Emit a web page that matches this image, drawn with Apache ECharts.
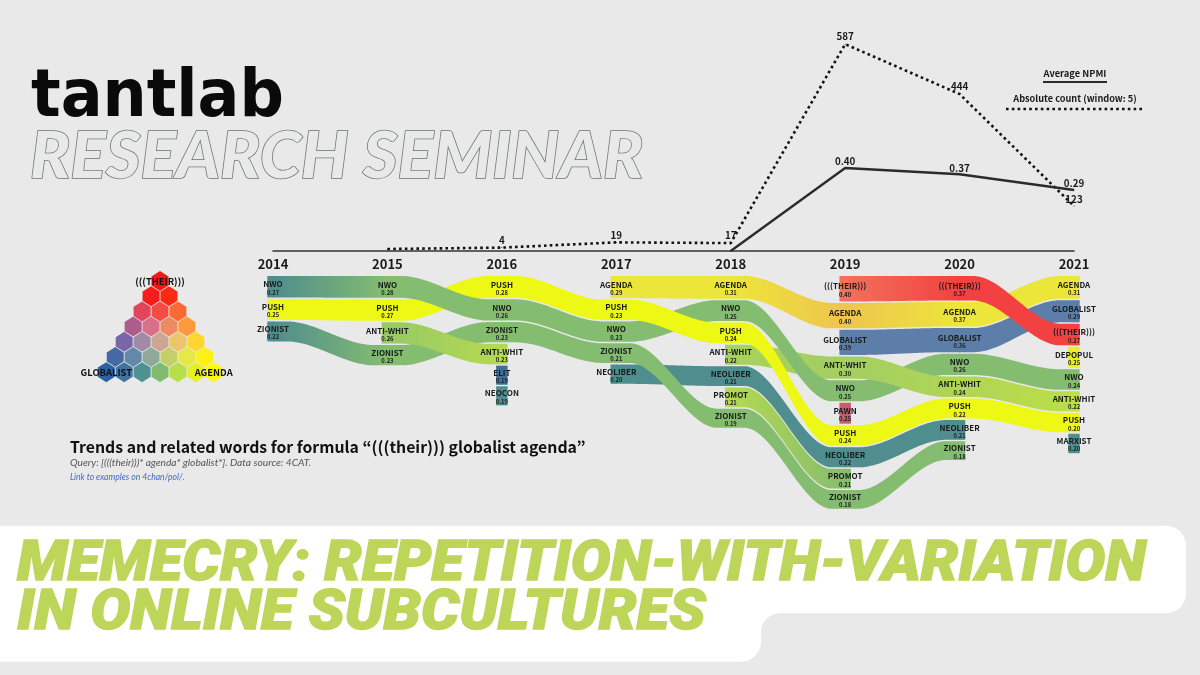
<!DOCTYPE html>
<html><head><meta charset="utf-8">
<style>html,body{margin:0;padding:0;background:#e9e9e9}#c{width:1200px;height:675px}</style>
<script src="https://cdn.jsdelivr.net/npm/echarts@6/dist/echarts.min.js"></script>
</head><body><div id="c"></div>
<script>
// ---------- data ----------
const years = [2014, 2015, 2016, 2017, 2018, 2019, 2020, 2021];
const npmiYears = [2018, 2019, 2020, 2021];
const npmiValues = [0, 0.40, 0.37, 0.294];
const countYears = [2015, 2016, 2017, 2018, 2019, 2020, 2021];
const countValues = [0, 4, 19, 17, 587, 444, 123];

const terms2014 = ['NWO', 'PUSH', 'ZIONIST'];
const npmi2014 = [0.27, 0.25, 0.22];
const terms2015 = ['NWO', 'PUSH', 'ANTI-WHIT', 'ZIONIST'];
const npmi2015 = [0.28, 0.27, 0.26, 0.23];
const terms2016 = ['PUSH', 'NWO', 'ZIONIST', 'ANTI-WHIT', 'ELIT', 'NEOCON'];
const npmi2016 = [0.28, 0.26, 0.23, 0.23, 0.19, 0.19];
const terms2017 = ['AGENDA', 'PUSH', 'NWO', 'ZIONIST', 'NEOLIBER'];
const npmi2017 = [0.29, 0.23, 0.23, 0.21, 0.20];
const terms2018 = ['AGENDA', 'NWO', 'PUSH', 'ANTI-WHIT', 'NEOLIBER', 'PROMOT', 'ZIONIST'];
const npmi2018 = [0.31, 0.25, 0.24, 0.22, 0.21, 0.21, 0.19];
const terms2019 = ['(((THEIR)))', 'AGENDA', 'GLOBALIST', 'ANTI-WHIT', 'NWO', 'PAWN', 'PUSH', 'NEOLIBER', 'PROMOT', 'ZIONIST'];
const npmi2019 = [0.40, 0.40, 0.39, 0.30, 0.25, 0.25, 0.24, 0.22, 0.21, 0.18];
const terms2020 = ['(((THEIR)))', 'AGENDA', 'GLOBALIST', 'NWO', 'ANTI-WHIT', 'PUSH', 'NEOLIBER', 'ZIONIST'];
const npmi2020 = [0.37, 0.37, 0.36, 0.26, 0.24, 0.22, 0.21, 0.18];
const terms2021 = ['AGENDA', 'GLOBALIST', '(((THEIR)))', 'DEPOPUL', 'NWO', 'ANTI-WHIT', 'PUSH', 'MARXIST'];
const npmi2021 = [0.31, 0.29, 0.27, 0.25, 0.24, 0.22, 0.20, 0.20];

const termsByYear = [terms2014, terms2015, terms2016, terms2017, terms2018, terms2019, terms2020, terms2021];
const npmiByYear = [npmi2014, npmi2015, npmi2016, npmi2017, npmi2018, npmi2019, npmi2020, npmi2021];

const cornerLabels = ['(((THEIR)))', 'GLOBALIST', 'AGENDA'];

// ---------- styles ----------
const GREEN = '#85bd70', TEAL = '#4f8d8e', YEL = '#edf915', BLUE = '#5c7ea8', RED = '#f34141', AG = '#ede63a';
const SANS = '"Noto Sans CJK JP"';
const termTint = {
  'NWO': GREEN, 'PUSH': YEL, 'ZIONIST': GREEN, 'ANTI-WHIT': '#a9d25b', 'ELIT': '#3f6f97', 'NEOCON': TEAL,
  'AGENDA': AG, 'NEOLIBER': TEAL, 'PROMOT': '#b5d950', '(((THEIR)))': RED, 'GLOBALIST': BLUE,
  'PAWN': '#c95c6a', 'DEPOPUL': '#e8f01e', 'MARXIST': TEAL
};
const yearTint = {
  'NWO@2014': TEAL, 'ZIONIST@2014': TEAL, '(((THEIR)))@2019': '#f2715a', 'AGENDA@2019': '#eec44e',
  'PROMOT@2019': GREEN, 'ANTI-WHIT@2015': '#97c965', 'ANTI-WHIT@2016': '#b5d950', 'ANTI-WHIT@2019': '#a3cf62',
  'ANTI-WHIT@2020': '#b0d555', 'ANTI-WHIT@2021': '#bcde48'
};
const hexTints = [
  ['#f01818'],
  ['#f41c1c', '#fa2a14'],
  ['#e2445c', '#f24c44', '#fb6a33'],
  ['#ae5c8c', '#d8708a', '#ee8a62', '#fd9b3c'],
  ['#7a66a6', '#a08aa6', '#cca690', '#ecc46a', '#fed62e'],
  ['#4569a5', '#6488a8', '#90a89c', '#c4cf6a', '#e6e845', '#fdf015'],
  ['#2c62a2', '#3f74a0', '#4d9290', '#80bc70', '#b8de48', '#e4f020', '#fafa0a']
];
const BAND_BASE = 0.447, BAND_GAP = 0.05, STUB = 0.05, FLAT = 0.12;

function tintOf(term, year) { return yearTint[term + '@' + year] || termTint[term]; }

// stack the terms of every year from their NPMI, as a rank flow does
const nodes = {};
const nodeRows = [];
years.forEach((yr, i) => {
  let pos = 0;
  termsByYear[i].forEach((term, k) => {
    const size = npmiByYear[i][k] + BAND_BASE;
    const n = { term, year: yr, npmi: npmiByYear[i][k], y0: pos, y1: pos + size };
    nodes[term + '@' + yr] = n;
    nodeRows.push(n);
    pos += size + BAND_GAP;
  });
});
const links = [];
nodeRows.forEach(n => {
  const next = nodes[n.term + '@' + (n.year + 1)];
  if (next) links.push({ a: n, b: next });
});
links.sort((p, q) => (p.b.y0 - p.a.y0) - (q.b.y0 - q.a.y0));

function ease(t) { return t * t * (3 - 2 * t); }

function renderLink(params, api) {
  const L = links[params.dataIndex];
  const xa = L.a.year, xb = L.b.year;
  const top = [], bot = [];
  const N = 40;
  for (let i = 0; i <= N; i++) {
    const x = xa + (xb - xa) * i / N;
    let t = (x - xa - FLAT) / (1 - 2 * FLAT);
    t = ease(Math.max(0, Math.min(1, t)));
    top.push(api.coord([x, L.a.y0 + (L.b.y0 - L.a.y0) * t]));
    bot.push(api.coord([x, L.a.y1 + (L.b.y1 - L.a.y1) * t]));
  }
  return {
    type: 'polygon',
    shape: { points: top.concat(bot.reverse()) },
    style: {
      fill: new echarts.graphic.LinearGradient(0, 0, 1, 0, [
        { offset: 0, color: tintOf(L.a.term, L.a.year) },
        { offset: 1, color: tintOf(L.b.term, L.b.year) }
      ])
    }
  };
}

function renderStub(params, api) {
  const n = nodeRows[params.dataIndex];
  const hasPrev = !!nodes[n.term + '@' + (n.year - 1)], hasNext = !!nodes[n.term + '@' + (n.year + 1)];
  const a = api.coord([n.year - (hasPrev ? 0.006 : STUB), n.y0]);
  const b = api.coord([n.year + (hasNext ? 0.006 : STUB), n.y1]);
  return {
    type: 'rect',
    shape: { x: a[0], y: a[1], width: b[0] - a[0], height: b[1] - a[1] },
    style: { fill: tintOf(n.term, n.year) }
  };
}

function renderLabel(params, api) {
  const n = nodeRows[params.dataIndex];
  const c = api.coord([n.year, (n.y0 + n.y1) / 2]);
  return {
    type: 'group',
    children: [
      { type: 'text', x: c[0], y: c[1] - 2.4, style: { text: n.term, align: 'center', verticalAlign: 'middle',
        fill: '#161a1a', font: '700 8px ' + SANS } },
      { type: 'text', x: c[0], y: c[1] + 5.8, style: { text: n.npmi.toFixed(2), align: 'center', verticalAlign: 'middle',
        fill: '#222', font: '700 5.8px ' + SANS } }
    ]
  };
}

const hexPath = 'path://M50 0L100 27L100 73L50 100L0 73L0 27Z';
const hexData = [];
hexTints.forEach((row, r) => row.forEach((color, c) => {
  const lab = (r === 0) ? cornerLabels[0] : (r === 6 && c === 0) ? cornerLabels[1] : (r === 6 && c === 6) ? cornerLabels[2] : '';
  hexData.push({ value: [c - r / 2, r], itemStyle: { color, opacity: 1 }, label: { show: !!lab, formatter: lab } });
}));

function gtext(text, x, y, font, fill, extra) {
  return Object.assign({ type: 'text', x, y, z: 20, silent: true,
    style: Object.assign({ text, font, fill, align: 'left', verticalAlign: 'middle' }, (extra && extra.style) || {}) },
    extra && extra.scaleX ? { scaleX: extra.scaleX } : {});
}
const BG = '#e9e9e9';
const LIME = '#bdd558';

const option = {
  animation: false,
  backgroundColor: BG,
  grid: [
    { left: 273, right: 126, top: 30, height: 221 },
    { left: 273, right: 126, top: 276, height: 244 },
    { left: 106.3, width: 107.4, top: 281, height: 91.2 }
  ],
  xAxis: [
    { type: 'value', gridIndex: 0, min: 2014, max: 2021, interval: 1, splitLine: { show: false }, axisTick: { show: false },
      axisLine: { show: true, lineStyle: { color: '#333', width: 1.6 } },
      axisLabel: { formatter: v => String(v), margin: 7, color: '#1a1a1a', fontFamily: 'Noto Sans CJK JP', fontWeight: 700, fontSize: 13 } },
    { type: 'value', gridIndex: 1, min: 2014, max: 2021, show: false },
    { type: 'value', gridIndex: 2, min: -3, max: 3, show: false }
  ],
  yAxis: [
    { type: 'value', gridIndex: 0, min: 0, max: 1.065, show: false },
    { type: 'value', gridIndex: 0, min: -5.7, max: 627.5, show: false },
    { type: 'value', gridIndex: 1, min: 0, max: 8.133, inverse: true, show: false },
    { type: 'value', gridIndex: 2, min: 0, max: 6, inverse: true, show: false }
  ],
  series: [
    { type: 'custom', name: 'Ribbons', xAxisIndex: 1, yAxisIndex: 2, z: 2, silent: true, renderItem: renderLink,
      data: links.map(L => [L.a.year, L.a.y0]) },
    { type: 'custom', name: 'Ends', xAxisIndex: 1, yAxisIndex: 2, z: 3, silent: true, renderItem: renderStub,
      data: nodeRows.map(n => [n.year, n.y0]) },
    { type: 'custom', name: 'Labels', xAxisIndex: 1, yAxisIndex: 2, z: 4, silent: true, renderItem: renderLabel,
      data: nodeRows.map(n => [n.year, n.y0]) },
    { type: 'line', name: 'Absolute count (window: 5)', xAxisIndex: 0, yAxisIndex: 1, z: 5, symbol: 'circle', symbolSize: 1, showSymbol: true, showAllSymbol: true, silent: true,
      data: countYears.map((y, i) => [y, countValues[i]]),
      itemStyle: { color: '#111' },
      lineStyle: { color: '#111', width: 2.6, type: [2.6, 3.2] },
      label: { show: true, position: 'top', distance: 2, color: '#1a1a1a', fontFamily: 'Noto Sans CJK JP', fontWeight: 700, fontSize: 9.8,
        formatter: p => (p.value[0] === 2015 ? '' : String(p.value[1])) },
      labelLayout: p => p.dataIndex === 6 ? { dy: 1 } : {} },
    { type: 'line', name: 'Average NPMI', xAxisIndex: 0, yAxisIndex: 0, z: 6, symbol: 'circle', symbolSize: 1, showSymbol: true, showAllSymbol: true, silent: true,
      data: npmiYears.map((y, i) => [y, npmiValues[i]]),
      itemStyle: { color: '#2b2b2b' },
      lineStyle: { color: '#2b2b2b', width: 2.4 },
      label: { show: true, position: 'top', distance: 1, color: '#1a1a1a', fontFamily: 'Noto Sans CJK JP', fontWeight: 700, fontSize: 9.8,
        formatter: p => (p.value[1] === 0 ? '' : p.value[1].toFixed(2)) } },
    { type: 'scatter', name: 'Colour key', xAxisIndex: 2, yAxisIndex: 3, z: 2, silent: true, symbol: hexPath, symbolSize: [17, 20],
      data: hexData,
      label: { position: 'inside', color: '#111', fontFamily: 'Noto Sans CJK JP', fontWeight: 700, fontSize: 9.4 } }
  ],
  graphic: { elements: [
    { type: 'rect', z: 1, silent: true, shape: { x: -30, y: 525.7, width: 1216, height: 87.6, r: 20 }, style: { fill: '#fff' } },
    { type: 'rect', z: 1, silent: true, shape: { x: -30, y: 560, width: 791, height: 101.7, r: 20 }, style: { fill: '#fff' } },
    { type: 'rect', z: 1, silent: true, shape: { x: 760, y: 612, width: 19, height: 19 }, style: { fill: '#fff' } },
    { type: 'circle', z: 1, silent: true, shape: { cx: 780, cy: 632.3, r: 19 }, style: { fill: BG } },
    gtext('tantlab', 31, 98.6, '700 66px "DejaVu Sans"', '#0a0a0a', { scaleX: 0.94 }),
    gtext('RESEARCH SEMINAR', 30, 157.5, 'italic 900 64px Lato', BG, { scaleX: 1.04, style: { stroke: '#6d7474', lineWidth: 1.5 } }),
    gtext('Trends and related words for formula “(((their))) globalist agenda”', 70, 447, '700 15.8px ' + SANS, '#111'),
    gtext('Query: [(((their)))* agenda* globalist*]. Data source: 4CAT.', 70, 463, 'italic 400 10.2px Lato', '#555'),
    gtext('Link to examples on 4chan/pol/.', 70, 477, 'italic 400 8.6px Lato', '#4a66c8'),
    gtext('MEMECRY: REPETITION-WITH-VARIATION', 17, 566.5, 'italic 900 55px Roboto', LIME, { scaleX: 1.078, style: { stroke: LIME, lineWidth: 1.4 } }),
    gtext('IN ONLINE SUBCULTURES', 17, 615, 'italic 900 55px Roboto', LIME, { scaleX: 1.09, style: { stroke: LIME, lineWidth: 1.4 } }),
    { type: 'text', x: 1075, y: 73, z: 20, silent: true, style: { text: 'Average NPMI', align: 'center', verticalAlign: 'middle', font: '700 9.3px ' + SANS, fill: '#1a1a1a' } },
    { type: 'line', z: 20, silent: true, shape: { x1: 1043, y1: 82, x2: 1107, y2: 82 }, style: { stroke: '#2b2b2b', lineWidth: 1.8 } },
    { type: 'text', x: 1075, y: 99, z: 20, silent: true, style: { text: 'Absolute count (window: 5)', align: 'center', verticalAlign: 'middle', font: '700 9.2px ' + SANS, fill: '#1a1a1a' } },
    { type: 'line', z: 20, silent: true, shape: { x1: 1006, y1: 109, x2: 1142, y2: 109 }, style: { stroke: '#111', lineWidth: 2.6, lineDash: [2.6, 3.2] } }
  ] }
};
echarts.init(document.getElementById('c'), null, { renderer: 'canvas' }).setOption(option);
</script></body></html>
